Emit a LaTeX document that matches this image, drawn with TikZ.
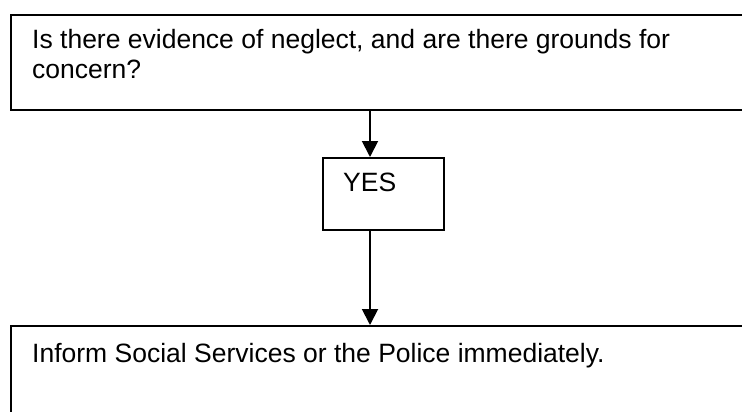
\documentclass[tikz,border=0pt]{standalone}
\usepackage{fontspec}
\setmainfont{Liberation Sans}
\usetikzlibrary{arrows.meta}
\begin{document}
\begin{tikzpicture}[x=1pt,y=-1pt,
  box/.style={draw=black,line width=1.9pt,rectangle,inner sep=0pt,anchor=north west},
  txt/.style={inner sep=0pt,anchor=base west,align=left,font=\fontsize{26.5}{31}\selectfont},
  conn/.style={line width=1.9pt,-{Triangle[length=16pt,width=16pt]}}]
\clip (0,0) rectangle (742,412);
\fill[white] (0,0) rectangle (742,412);
\node[box,minimum width=760pt,minimum height=95pt] (q) at (10,14) {};
\node[txt] (qt) at (32,79) {Is there evidence of neglect, and are there grounds for\\concern?};
\node[box,minimum width=121pt,minimum height=72pt] (yes) at (322,157) {};
\node[txt] (yest) at (343,191.7) {YES};
\node[box,minimum width=760pt,minimum height=100pt] (inf) at (10,325) {};
\node[txt] (inft) at (32,362) {Inform Social Services or the Police immediately.};
\coordinate (a1) at (370,109);
\coordinate (a2) at (370,157);
\coordinate (b1) at (370,229);
\coordinate (b2) at (370,325);
\draw[conn] (a1) -- (a2);
\draw[conn] (b1) -- (b2);
\end{tikzpicture}
\end{document}
